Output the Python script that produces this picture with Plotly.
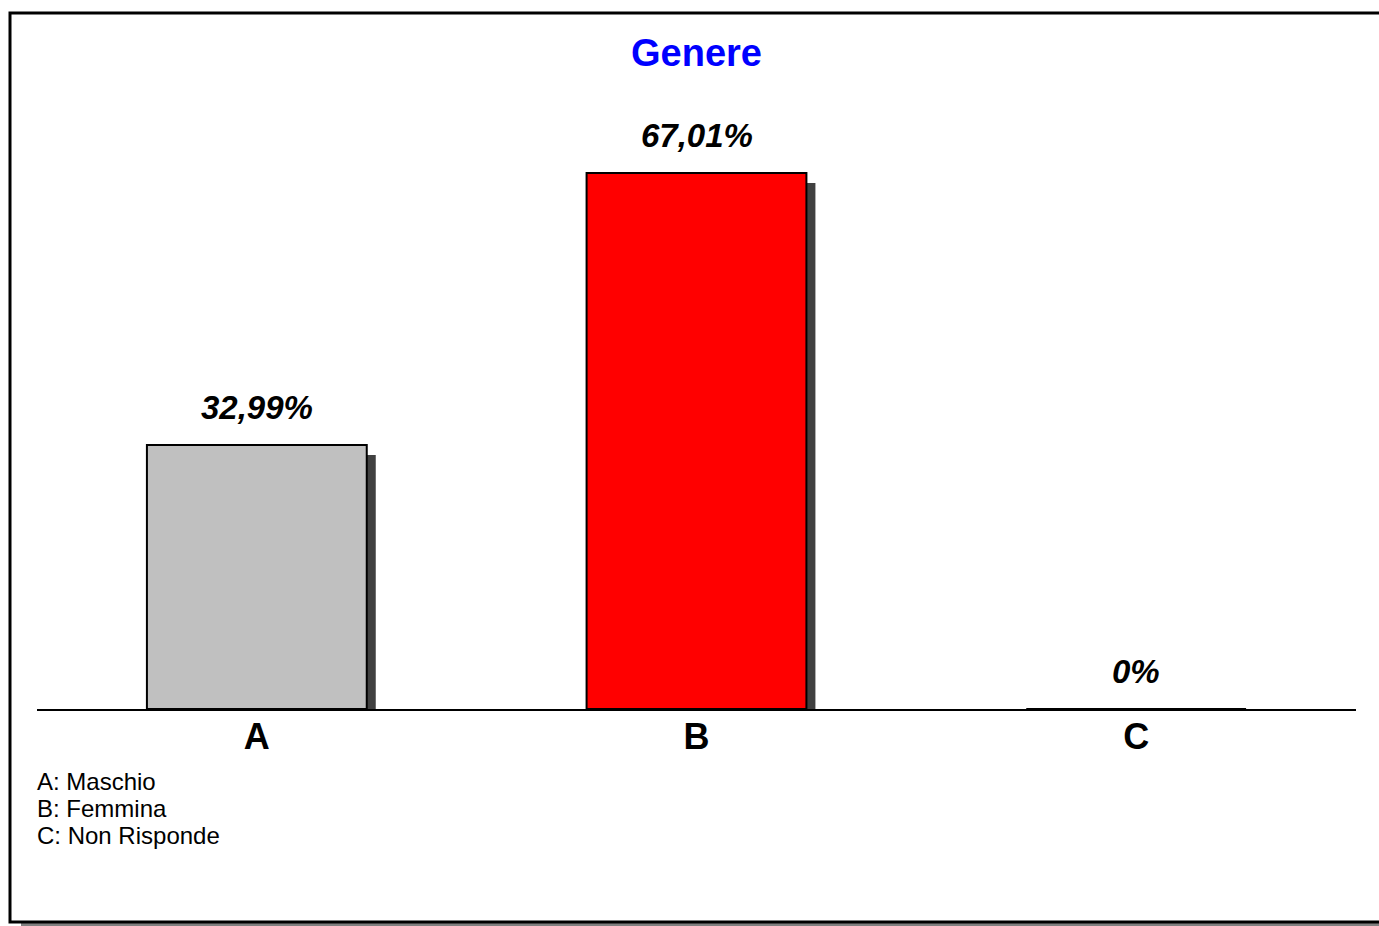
import plotly.graph_objects as go

categories = ["A", "B", "C"]
values = [32.99, 67.01, 0.0]
value_labels = ["32,99%", "67,01%", "0%"]
bar_colors = ["#C0C0C0", "#FF0000", "#FFFFFF"]
legend_lines = ["A: Maschio", "B: Femmina", "C: Non Risponde"]
title_text = "Genere"

W, H = 1379, 926
PL, PR, PT, PB = 37, 1356, 109, 709  # plot area pixel bounds
YMAX = 75.0
px_per_unit = (PB - PT) / YMAX
cat_px = (PR - PL) / 3.0

def px_x(px):
    return (px - PL) / (PR - PL)

def px_y(py):
    return (PB - py) / (PB - PT)

shadow_dx = 9 / cat_px
shadow_dy = 10 / px_per_unit
shadow_vals = [max(v - shadow_dy, 0) for v in values]

fig = go.Figure()
fig.add_trace(go.Bar(
    x=[0, 1, 2], y=shadow_vals, width=0.5, offset=-0.25 + shadow_dx,
    marker=dict(color="#404040", line=dict(width=0)),
    hoverinfo="skip", showlegend=False,
))
fig.add_trace(go.Bar(
    x=[0, 1, 2], y=values, width=0.5, offset=-0.25,
    marker=dict(color=bar_colors, line=dict(color="#000000", width=2)),
    showlegend=False,
))

for i, (v, t) in enumerate(zip(values, value_labels)):
    fig.add_annotation(
        x=i, y=v, xref="x", yref="y", text=t, showarrow=False,
        yanchor="bottom", yshift=17,
        font=dict(family="Liberation Sans, Arial", size=33, color="#000000",
                  style="italic", weight="bold"),
    )

legend_y = [781, 808, 835]
for line, py in zip(legend_lines, legend_y):
    fig.add_annotation(
        x=px_x(35), y=px_y(py), xref="paper", yref="paper", text=line,
        showarrow=False, xanchor="left", yanchor="middle",
        font=dict(family="Liberation Sans, Arial", size=24, color="#000000"),
    )

fig.add_annotation(
    x=1, y=px_y(53), xref="x", yref="paper", text=title_text, showarrow=False,
    xanchor="center", yanchor="middle",
    font=dict(family="Liberation Sans, Arial", size=38, color="#0000FF", weight="bold"),
)

# frame shadow and frame
fig.add_shape(type="rect", xref="paper", yref="paper",
              x0=px_x(21), x1=px_x(1400), y0=px_y(927), y1=px_y(922),
              fillcolor="#808080", line=dict(width=0), layer="below")
fig.add_shape(type="rect", xref="paper", yref="paper",
              x0=px_x(10), x1=px_x(1400), y0=px_y(922), y1=px_y(13),
              fillcolor="rgba(0,0,0,0)", line=dict(color="#000000", width=3), layer="below")

fig.update_layout(
    width=W, height=H,
    margin=dict(l=PL, r=W - PR, t=PT, b=H - PB, pad=0),
    paper_bgcolor="#FFFFFF", plot_bgcolor="#FFFFFF",
    barmode="overlay",
    xaxis=dict(
        range=[-0.5, 2.5], tickmode="array", tickvals=[0, 1, 2], ticktext=categories,
        showline=True, linecolor="#000000", linewidth=2, ticks="",
        showgrid=False, zeroline=False, fixedrange=True,
        tickfont=dict(family="Liberation Sans, Arial", size=36, color="#000000", weight="bold"),
        ticklabelstandoff=-5,
    ),
    yaxis=dict(range=[0, YMAX], visible=False, showgrid=False, zeroline=False, fixedrange=True),
)

fig.write_html("out.html", config={"displayModeBar": False},
               post_script="document.body.style.margin='0';document.body.style.overflow='hidden';")
